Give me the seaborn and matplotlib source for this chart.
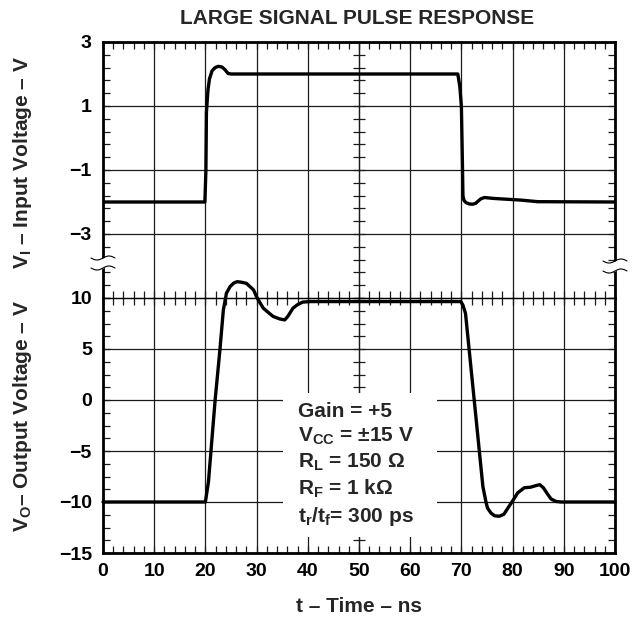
import numpy as np
import pandas as pd
import matplotlib
matplotlib.use("Agg")
import matplotlib.pyplot as plt
import seaborn as sns
from matplotlib.ticker import FixedLocator
from matplotlib.patches import Rectangle

# ---------------- data ----------------
t_in = [0, 19.9, 20.1, 20.2, 20.5, 20.8, 21.3, 21.9, 22.5, 23.2, 23.8, 24.4, 25.0,
        40, 60, 69.3, 69.7, 70.0, 70.2, 70.3, 70.5, 70.9, 71.5, 72.2, 72.8, 73.2,
        73.8, 74.5, 76.4, 81.6, 84.9, 100]
v_in = [-2.0, -2.0, -1.0, 0.8, 1.5, 1.85, 2.1, 2.2, 2.24, 2.22, 2.14, 2.02, 2.0,
        2.0, 2.0, 2.0, 1.6, 0.98, -0.8, -1.8, -1.95, -2.02, -2.06, -2.07, -2.04, -1.98,
        -1.9, -1.86, -1.89, -1.94, -1.99, -2.0]

t_out = [0, 20.0, 20.6, 21.9, 22.85, 23.5, 24.1, 24.8, 25.5, 26.2, 27.0, 28.0, 29.4,
         30.0, 31.3, 33.2, 34.5, 35.5, 36.1, 37.1, 38.0, 39.0, 40.5, 69.9, 70.3, 70.8,
         72.5, 73.5, 74.2, 74.8, 75.1, 75.8, 76.5, 77.4, 78.3, 79.2, 80.0, 81.0, 82.3,
         83.5, 84.5, 85.3, 86.0, 86.8, 87.5, 88.5, 89.5, 100]
v_out = [-10.0, -10.0, -8.0, 0.0, 5.0, 8.8, 10.46, 11.1, 11.45, 11.6, 11.55, 11.44, 10.8,
         10.1, 9.0, 8.2, 7.95, 7.85, 8.2, 9.0, 9.35, 9.6, 9.65, 9.65, 9.3, 8.5,
         0.0, -5.0, -8.5, -10.0, -10.6, -11.1, -11.35, -11.4, -11.2, -10.5, -9.9, -9.1, -8.6,
         -8.55, -8.4, -8.3, -8.6, -9.2, -9.7, -9.95, -10.0, -10.0]

x_ticks = [0, 10, 20, 30, 40, 50, 60, 70, 80, 90, 100]
in_ticks = [3, 1, -1, -3]
out_ticks = [10, 5, 0, -5, -10, -15]
in_minor = list(np.round(np.arange(-5, 3.001, 0.4), 2))
out_minor = list(np.round(np.arange(-15, 10.001, 1.25), 2))
x_minor = list(range(0, 101, 2))

title = "LARGE SIGNAL PULSE RESPONSE"
ylabel_in = r"V$_\mathrm{I}$ – Input Voltage – V"
ylabel_out = r"V$_\mathrm{O}$– Output Voltage – V"
xlabel = "t – Time – ns"
notes = ["Gain = +5",
         r"V$_\mathrm{CC}$ = ±15 V",
         r"R$_\mathrm{L}$ = 150 Ω",
         r"R$_\mathrm{F}$ = 1 kΩ",
         r"t$_\mathrm{r}$/t$_\mathrm{f}$= 300 ps"]

# ---------------- style ----------------
sns.set_theme(style="white")
plt.rcParams['font.family'] = ['Liberation Sans', 'DejaVu Sans']
plt.rcParams['font.weight'] = 'bold'
plt.rcParams['mathtext.fontset'] = 'custom'
plt.rcParams['mathtext.rm'] = 'Liberation Sans:bold'
plt.rcParams['mathtext.it'] = 'Liberation Sans:bold'
plt.rcParams['mathtext.bf'] = 'Liberation Sans:bold'
plt.rcParams['axes.unicode_minus'] = True

W, H = 642, 621
fig = plt.figure(figsize=(W / 100, H / 100), dpi=100)
L, R = 103, 615
ax1 = fig.add_axes([L / W, 1 - 298 / H, (R - L) / W, 256 / H])
ax2 = fig.add_axes([L / W, 1 - 553 / H, (R - L) / W, 255 / H])

df_in = pd.DataFrame({"t": t_in, "v": v_in})
df_out = pd.DataFrame({"t": t_out, "v": v_out})
sns.lineplot(data=df_in, x="t", y="v", ax=ax1, color="black", lw=2.4, sort=False,
             estimator=None, zorder=5)
sns.lineplot(data=df_out, x="t", y="v", ax=ax2, color="black", lw=2.4, sort=False,
             estimator=None, zorder=5)
for ln in ax2.get_lines():
    ln.set_clip_on(False)

gridc = "#1a1a1a"
TFS = 14
for ax, yt, ym, ylim in [(ax1, in_ticks, in_minor, (-5, 3)), (ax2, out_ticks, out_minor, (-15, 10))]:
    ax.set_xlim(0, 100)
    ax.set_ylim(*ylim)
    ax.set_xticks(x_ticks)
    ax.xaxis.set_minor_locator(FixedLocator(x_minor))
    ax.set_yticks(yt)
    ax.yaxis.set_minor_locator(FixedLocator(ym))
    ax.grid(True, which="major", color=gridc, lw=0.9)
    ax.set_axisbelow(True)
    ax.set_xlabel("")
    ax.set_ylabel("")
    ax.tick_params(axis="both", which="both", direction="in", length=5, width=0.9,
                   color=gridc, top=True, bottom=True, left=True, right=True)
    ax.tick_params(axis="y", labelsize=TFS, pad=8, labelcolor="black")
    ax.set_yticklabels([str(v).replace("-", "\u2212") for v in yt])
    for s in ax.spines.values():
        s.set_color("black")
        s.set_linewidth(2.0)
    # central vertical line with crossing ticks
    sec = ax.secondary_yaxis(0.5)
    sec.yaxis.set_major_locator(FixedLocator(ym))
    sec.tick_params(axis="y", direction="inout", length=9, width=0.9, color=gridc,
                    labelright=False, labelleft=False)
    for s in sec.spines.values():
        s.set_linewidth(0.9)
        s.set_color(gridc)
    sec.set_zorder(0.6)

ax1.spines["bottom"].set_linewidth(0.9)
ax2.spines["top"].set_linewidth(0.9)
ax1.tick_params(axis="x", labelbottom=False)
ax2.tick_params(axis="x", labelsize=TFS, pad=7, labelcolor="black")

# text box
ax2.add_patch(Rectangle(((283 - L) / 512, (553 - 537) / 255), 154 / 512, 144 / 255,
                        transform=ax2.transAxes, facecolor="white", edgecolor="none",
                        zorder=3))
for txt, yb in zip(notes, [417, 442, 468, 495, 522]):
    ax2.text((298 - L) / 512, (553 - yb) / 255, txt, transform=ax2.transAxes,
             ha="left", va="baseline", fontsize=15, fontweight="bold", zorder=6)

# axis break marks
def brk(ax, xa, ya_list, hpx, wpx=512):
    dx = np.linspace(-12, 12, 60)
    dy = 2.0 * np.sin(np.pi * dx / 12)
    xs = xa + dx / wpx
    (y_hi, y_lo) = ya_list
    ax.fill_between(xs, y_lo + dy / hpx, y_hi + dy / hpx, transform=ax.transAxes,
                    color="white", zorder=7, clip_on=False, lw=0)
    for y0 in ya_list:
        ax.plot(xs, y0 + dy / hpx, transform=ax.transAxes, color="black", lw=0.8,
                zorder=8, clip_on=False)

brk(ax1, 0.0, [(298 - 258) / 256, (298 - 268) / 256], 256)
brk(ax1, 1.0, [(298 - 261) / 256, (298 - 271) / 256], 256)

fig.text(357 / W, 1 - 19 / H, title, ha="center", va="center", fontsize=15,
         fontweight="bold")
fig.text(23 / W, 1 - 162 / H, ylabel_in, ha="center", va="center", rotation=90,
         fontsize=15, fontweight="bold")
fig.text(23 / W, 1 - 416 / H, ylabel_out, ha="center", va="center", rotation=90,
         fontsize=15, fontweight="bold")
fig.text(359 / W, 1 - 606 / H, xlabel, ha="center", va="center", fontsize=15,
         fontweight="bold")

fig.savefig("out.png", dpi=100)
